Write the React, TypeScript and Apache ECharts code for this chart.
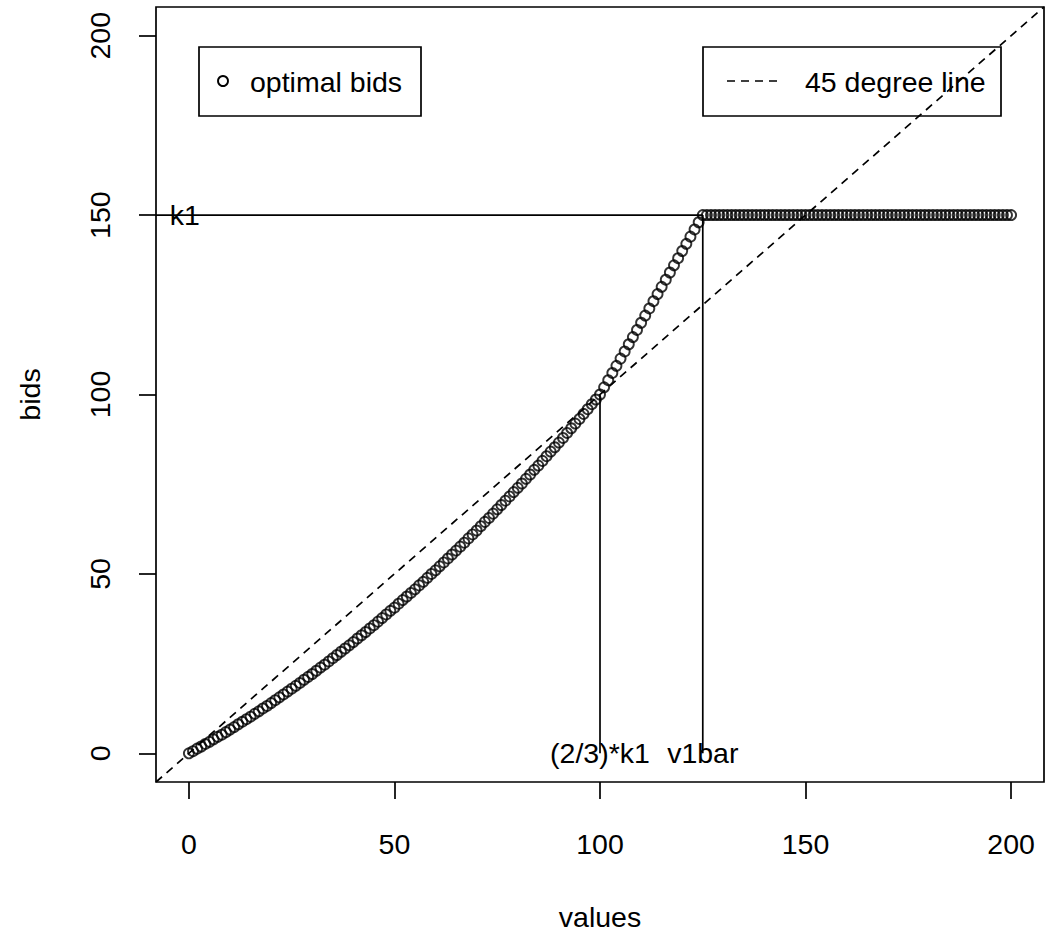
import React, { useEffect, useRef } from "react";
import * as echarts from "echarts";

// ---------- data ----------
const values: number[] = [
  0, 1, 2, 3, 4, 5, 6, 7, 8, 9, 10, 11, 12, 13, 14, 15, 16, 17, 18, 19,
  20, 21, 22, 23, 24, 25, 26, 27, 28, 29, 30, 31, 32, 33, 34, 35, 36, 37, 38, 39,
  40, 41, 42, 43, 44, 45, 46, 47, 48, 49, 50, 51, 52, 53, 54, 55, 56, 57, 58, 59,
  60, 61, 62, 63, 64, 65, 66, 67, 68, 69, 70, 71, 72, 73, 74, 75, 76, 77, 78, 79,
  80, 81, 82, 83, 84, 85, 86, 87, 88, 89, 90, 91, 92, 93, 94, 95, 96, 97, 98, 99,
  100, 101, 102, 103, 104, 105, 106, 107, 108, 109, 110, 111, 112, 113, 114, 115, 116, 117, 118, 119,
  120, 121, 122, 123, 124, 125, 126, 127, 128, 129, 130, 131, 132, 133, 134, 135, 136, 137, 138, 139,
  140, 141, 142, 143, 144, 145, 146, 147, 148, 149, 150, 151, 152, 153, 154, 155, 156, 157, 158, 159,
  160, 161, 162, 163, 164, 165, 166, 167, 168, 169, 170, 171, 172, 173, 174, 175, 176, 177, 178, 179,
  180, 181, 182, 183, 184, 185, 186, 187, 188, 189, 190, 191, 192, 193, 194, 195, 196, 197, 198, 199,
  200,
];

const bids: number[] = [
  0, 0.6, 1.3, 1.9, 2.6, 3.2, 3.9, 4.6, 5.2, 5.9, 6.6, 7.3, 8.1, 8.8, 9.5, 10.2, 11.0, 11.7, 12.5, 13.2,
  14.0, 14.8, 15.6, 16.4, 17.2, 18.0, 18.8, 19.6, 20.5, 21.3, 22.1, 23.0, 23.9, 24.7, 25.6, 26.5, 27.4, 28.3, 29.2, 30.1,
  31.0, 32.0, 32.9, 33.8, 34.8, 35.7, 36.7, 37.7, 38.7, 39.7, 40.6, 41.7, 42.7, 43.7, 44.7, 45.7, 46.8, 47.8, 48.9, 50.0,
  51.0, 52.1, 53.2, 54.3, 55.4, 56.5, 57.6, 58.7, 59.9, 61.0, 62.1, 63.3, 64.5, 65.6, 66.8, 68.0, 69.2, 70.4, 71.6, 72.8,
  74.0, 75.2, 76.5, 77.7, 79.0, 80.2, 81.5, 82.8, 84.1, 85.3, 86.6, 87.9, 89.3, 90.6, 91.9, 93.2, 94.6, 95.9, 97.3, 98.6,
  100, 102, 104, 106, 108, 110, 112, 114, 116, 118, 120, 122, 124, 126, 128, 130, 132, 134, 136, 138,
  140, 142, 144, 146, 148, 150, 150, 150, 150, 150, 150, 150, 150, 150, 150, 150, 150, 150, 150, 150,
  150, 150, 150, 150, 150, 150, 150, 150, 150, 150, 150, 150, 150, 150, 150, 150, 150, 150, 150, 150,
  150, 150, 150, 150, 150, 150, 150, 150, 150, 150, 150, 150, 150, 150, 150, 150, 150, 150, 150, 150,
  150, 150, 150, 150, 150, 150, 150, 150, 150, 150, 150, 150, 150, 150, 150, 150, 150, 150, 150, 150,
  150,
];

const xTicks: number[] = [0, 50, 100, 150, 200];
const yTicks: number[] = [0, 50, 100, 150, 200];
const axisMin = -8;
const axisMax = 208;

const k1 = 150;
const twoThirdsK1 = 100;
const v1bar = 125;

const abline45: number[][] = [[axisMin, axisMin], [axisMax, axisMax]];
const k1Segment: number[][] = [[axisMin, k1], [v1bar, k1]];
const twoThirdsSegment: number[][] = [[twoThirdsK1, 0], [twoThirdsK1, twoThirdsK1]];
const v1barSegment: number[][] = [[v1bar, 0], [v1bar, k1]];

const annotationLabels: string[] = ["k1", "(2/3)*k1", "v1bar"];
const annotationX: number[] = [-1, 100, 125];
const annotationY: number[] = [150, 0, 0];

const FONT = '"Liberation Sans", Arial, Helvetica, sans-serif';
const FS = 28.5;
const LW = 1.7;

export default function App() {
  const ref = useRef<HTMLDivElement>(null);

  useEffect(() => {
    if (!ref.current) return;
    const chart = echarts.init(ref.current, undefined, { renderer: "svg" });

    const axisCommon = {
      type: "value" as const,
      min: axisMin,
      max: axisMax,
      splitLine: { show: false },
      axisLine: { show: false, onZero: false },
      nameLocation: "middle" as const,
      nameTextStyle: { fontSize: FS, fontFamily: FONT, color: "#000" },
    };

    const tickStyle = { color: "#000", width: LW };
    const segStyle = { color: "#000", width: LW, type: "solid" as const };

    const option: any = {
      animation: false,
      backgroundColor: "#fff",
      grid: {
        left: 156,
        right: 2,
        top: 7,
        bottom: 159,
        show: true,
        borderColor: "#000",
        borderWidth: LW,
        backgroundColor: "transparent",
      },
      xAxis: {
        ...axisCommon,
        name: "values",
        nameGap: 120,
        axisTick: { show: true, inside: false, length: 17, customValues: xTicks, lineStyle: tickStyle },
        axisLabel: {
          customValues: xTicks,
          fontSize: FS,
          fontFamily: FONT,
          color: "#000",
          margin: 47,
        },
      },
      yAxis: {
        ...axisCommon,
        name: "bids",
        nameGap: 112,
        nameRotate: 90,
        axisTick: { show: true, inside: false, length: 17, customValues: yTicks, lineStyle: tickStyle },
        axisLabel: {
          customValues: yTicks,
          rotate: 90,
          fontSize: FS,
          fontFamily: FONT,
          color: "#000",
          margin: 42,
        },
      },
      series: [
        {
          name: "optimal bids",
          type: "scatter",
          silent: true,
          symbol: "circle",
          symbolSize: 10,
          itemStyle: { color: "rgba(0,0,0,0)", borderColor: "#000", borderWidth: 1.9 },
          data: values.map((v, i) => [v, bids[i]]),
          z: 2,
        },
        {
          name: "45 degree line",
          type: "line",
          silent: true,
          symbol: "none",
          lineStyle: { color: "#000", width: LW, type: [8, 6] },
          data: abline45,
          z: 3,
        },
        {
          name: "k1 segment",
          type: "line",
          silent: true,
          symbol: "none",
          lineStyle: segStyle,
          data: k1Segment,
          z: 3,
        },
        {
          name: "two thirds segment",
          type: "line",
          silent: true,
          symbol: "none",
          lineStyle: segStyle,
          data: twoThirdsSegment,
          z: 3,
        },
        {
          name: "v1bar segment",
          type: "line",
          silent: true,
          symbol: "none",
          lineStyle: segStyle,
          data: v1barSegment,
          z: 3,
        },
        {
          name: "annotations",
          type: "scatter",
          silent: true,
          symbolSize: 0.01,
          itemStyle: { color: "#000" },
          label: {
            show: true,
            position: "inside",
            align: "center",
            verticalAlign: "middle",
            fontSize: FS,
            fontFamily: FONT,
            color: "#000",
            textBorderWidth: 0,
            textBorderColor: "transparent",
            opacity: 1,
            formatter: (p: any) => annotationLabels[p.dataIndex],
          },
          data: annotationX.map((x, i) => [x, annotationY[i]]),
          z: 4,
        },
      ],
      graphic: [
        {
          type: "rect",
          silent: true,
          shape: { x: 199, y: 47, width: 222, height: 69 },
          style: { fill: "none", stroke: "#000", lineWidth: LW },
        },
        {
          type: "circle",
          silent: true,
          shape: { cx: 223, cy: 81, r: 5 },
          style: { fill: "none", stroke: "#000", lineWidth: 1.9 },
        },
        {
          type: "text",
          silent: true,
          x: 250,
          y: 82,
          style: {
            text: "optimal bids",
            fontSize: FS,
            fontFamily: FONT,
            fill: "#000",
            align: "left",
            verticalAlign: "middle",
          },
        },
        {
          type: "rect",
          silent: true,
          shape: { x: 703, y: 47, width: 298, height: 69 },
          style: { fill: "none", stroke: "#000", lineWidth: LW },
        },
        {
          type: "line",
          silent: true,
          shape: { x1: 727, y1: 81, x2: 780, y2: 81 },
          style: { stroke: "#000", lineWidth: LW, lineDash: [8, 6] },
        },
        {
          type: "text",
          silent: true,
          x: 805,
          y: 82,
          style: {
            text: "45 degree line",
            fontSize: FS,
            fontFamily: FONT,
            fill: "#000",
            align: "left",
            verticalAlign: "middle",
          },
        },
      ],
    };

    chart.setOption(option);
    return () => chart.dispose();
  }, []);

  return (
    <div
      ref={ref}
      style={{
        position: "absolute",
        left: 0,
        top: 0,
        width: 1046,
        height: 941,
        background: "#fff",
      }}
    />
  );
}
